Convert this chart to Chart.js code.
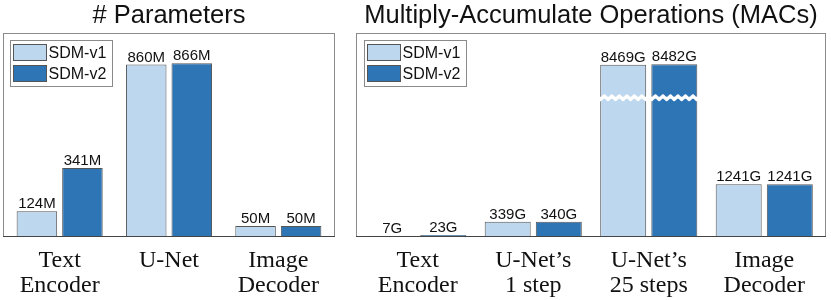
<!DOCTYPE html>
<html>
<head>
<meta charset="utf-8">
<script src="https://cdn.jsdelivr.net/npm/chart.js@4/dist/chart.umd.min.js"></script>
<style>
  html, body { margin: 0; padding: 0; background: #fff; }
  #wrap { position: relative; width: 831px; height: 300px; }
  .panel { position: absolute; top: 0; height: 300px; }
  #p1 { left: 0; width: 340px; }
  #p2 { left: 340px; width: 491px; }
</style>
</head>
<body>
<div id="wrap">
  <div class="panel" id="p1"><canvas id="c1"></canvas></div>
  <div class="panel" id="p2"><canvas id="c2"></canvas></div>
</div>
<script>
// ---- data ----
const seriesNames = ['SDM-v1', 'SDM-v2'];
const paramCategories = [['Text', 'Encoder'], ['U-Net'], ['Image', 'Decoder']];
const paramsV1 = [124, 860, 50];   // millions
const paramsV2 = [341, 866, 50];
const macCategories = [['Text', 'Encoder'], ['U-Net\u2019s', '1 step'], ['U-Net\u2019s', '25 steps'], ['Image', 'Decoder']];
const macsV1 = [7, 339, 8469, 1241];   // GMACs
const macsV2 = [23, 340, 8482, 1241];
const titles = ['# Parameters', 'Multiply-Accumulate Operations (MACs)'];

// ---- style ----
const LIGHT = '#bdd7ee';
const DARK = '#2e75b6';
const EDGE = '#555555';
const SANS = '"Liberation Sans", Arial, sans-serif';
const SERIF = '"Liberation Serif", "Times New Roman", serif';

// axis break for the right panel (values hidden between BREAK_LOW and BREAK_LOW + BREAK_GAP)
const BREAK_LOW = 3310;
const BREAK_GAP = 4370;
const toShown = v => (v > BREAK_LOW + BREAK_GAP ? v - BREAK_GAP : v);

const framePlugin = {
  id: 'frame',
  beforeDatasetsDraw(chart, args, opts) {
    const a = chart.chartArea, ctx = chart.ctx, ext = opts.ext || 0;
    ctx.save();
    ctx.strokeStyle = '#8a8a8a';
    ctx.lineWidth = 1;
    ctx.strokeRect(Math.round(a.left - ext) + 0.5, Math.round(a.top) + 0.5,
      Math.round(a.right - a.left + 2 * ext) - 1, Math.round(a.bottom - a.top));
    ctx.strokeStyle = '#444';
    ctx.beginPath();
    ctx.moveTo(a.left - ext, Math.round(a.bottom) + 0.5);
    ctx.lineTo(a.right + ext, Math.round(a.bottom) + 0.5);
    ctx.stroke();
    ctx.restore();
  }
};

const labelPlugin = {
  id: 'valueLabels',
  afterDatasetsDraw(chart, args, opts) {
    const ctx = chart.ctx;
    ctx.save();
    ctx.font = '15px ' + SANS;
    ctx.fillStyle = '#111';
    ctx.textAlign = 'center';
    ctx.textBaseline = 'alphabetic';
    chart.data.datasets.forEach((ds, di) => {
      const meta = chart.getDatasetMeta(di);
      meta.data.forEach((bar, i) => {
        ctx.fillText(ds.raw[i] + opts.unit, bar.x, bar.y - 3);
      });
    });
    ctx.restore();
  }
};

const breakPlugin = {
  id: 'axisBreak',
  afterDatasetsDraw(chart, args, opts) {
    if (opts.index === undefined) return;
    const ctx = chart.ctx;
    const y = chart.scales.y.getPixelForValue(BREAK_LOW) ;
    ctx.save();
    chart.data.datasets.forEach((ds, di) => {
      const bar = chart.getDatasetMeta(di).data[opts.index];
      const x0 = bar.x - bar.width / 2 - 1.5, x1 = bar.x + bar.width / 2 + 1.5;
      const amp = 1.3, per = 7.5, half = 2.2;
      ctx.beginPath();
      ctx.moveTo(x0, y - half);
      for (let x = x0; x <= x1; x += 0.5) ctx.lineTo(x, y - half + amp * Math.sin((x - x0) / per * 2 * Math.PI));
      for (let x = x1; x >= x0; x -= 0.5) ctx.lineTo(x, y + half + amp * Math.sin((x - x0) / per * 2 * Math.PI));
      ctx.closePath();
      ctx.fillStyle = '#fff';
      ctx.fill();
    });
    ctx.restore();
  }
};

const legendPlugin = {
  id: 'boxLegend',
  afterDatasetsDraw(chart, args, opts) {
    const ctx = chart.ctx, a = chart.chartArea;
    const bx = Math.round(a.left + opts.dx) + 0.5, by = Math.round(a.top + 7) + 0.5;
    const w = 102, h = 46;
    ctx.save();
    ctx.fillStyle = '#fff';
    ctx.fillRect(bx, by, w, h);
    ctx.strokeStyle = '#8a8a8a';
    ctx.lineWidth = 1;
    ctx.strokeRect(bx, by, w, h);
    ctx.font = '16px ' + SANS;
    ctx.textBaseline = 'middle';
    chart.data.datasets.forEach((ds, i) => {
      const sy = by + 4 + i * 21;
      ctx.fillStyle = ds.backgroundColor;
      ctx.fillRect(bx + 3, sy, 33, 16);
      ctx.strokeStyle = EDGE;
      ctx.strokeRect(bx + 3, sy, 33, 16);
      ctx.fillStyle = '#111';
      ctx.fillText(ds.label, bx + 38, sy + 9);
    });
    ctx.restore();
  }
};

function makeChart(id, cats, v1, v2, title, ymax, pad, catPct, barPct, unit, ext, legendDx, breakIndex, shown) {
  const mk = (name, vals, color) => ({
    label: name,
    raw: vals,
    data: vals.map(shown),
    backgroundColor: color,
    borderColor: EDGE,
    borderWidth: 1,
    borderSkipped: 'start',
    categoryPercentage: catPct,
    barPercentage: barPct
  });
  return new Chart(document.getElementById(id), {
    type: 'bar',
    data: {
      labels: cats,
      datasets: [mk(seriesNames[0], v1, LIGHT), mk(seriesNames[1], v2, DARK)]
    },
    options: {
      responsive: true,
      maintainAspectRatio: false,
      animation: false,
      devicePixelRatio: 1,
      layout: { padding: pad },
      plugins: {
        legend: { display: false },
        tooltip: { enabled: false },
        title: {
          display: true,
          text: title,
          color: '#111',
          font: { family: SANS, size: 25.5, weight: 'normal' },
          padding: { top: 1, bottom: 1 }
        },
        frame: { ext: ext },
        valueLabels: { unit: unit },
        axisBreak: { index: breakIndex },
        boxLegend: { dx: legendDx }
      },
      scales: {
        x: {
          grid: { display: false, drawTicks: false },
          border: { display: false },
          afterFit: s => { s.height = 64; },
          ticks: {
            color: '#111',
            padding: 12,
            maxRotation: 0,
            autoSkip: false,
            font: { family: SERIF, size: 24, lineHeight: 1.05 }
          }
        },
        y: { display: false, min: 0, max: ymax }
      }
    },
    plugins: [framePlugin, labelPlugin, breakPlugin, legendPlugin]
  });
}

makeChart('c1', paramCategories, paramsV1, paramsV2, titles[0], 1020,
  { left: 5, right: 7, top: 0, bottom: 0 }, 0.833, 0.89, 'M', 2, 5, undefined, v => v);
makeChart('c2', macCategories, macsV1, macsV2, titles[1], 4870,
  { left: 20, right: 9, top: 0, bottom: 0 }, 0.885, 0.90, 'G', 4, 4, 2, toShown);
</script>
</body>
</html>
